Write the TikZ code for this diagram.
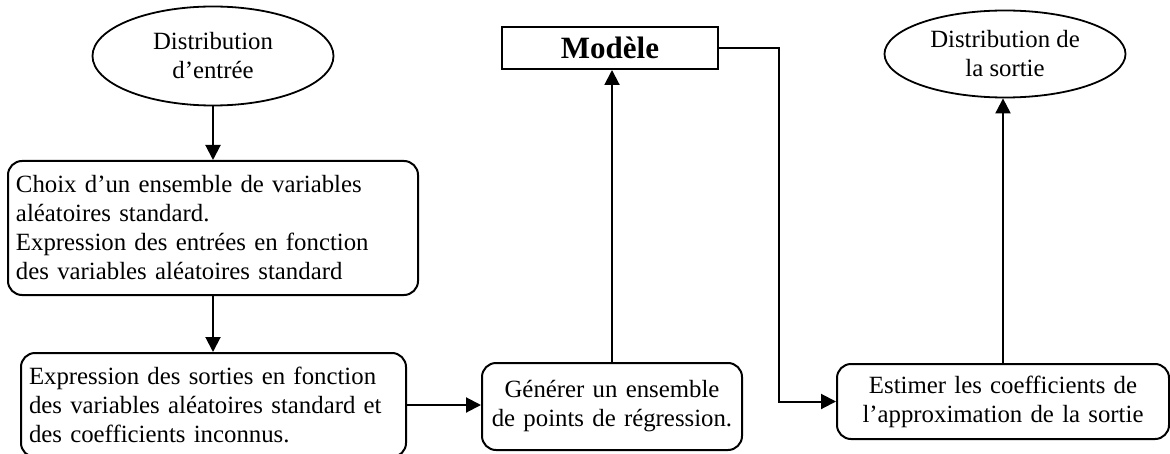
\documentclass[tikz,border=0pt]{standalone}
\usepackage{fontspec}
\setmainfont{Liberation Serif}
\usetikzlibrary{shapes.geometric,arrows.meta}
\newcommand{\txtsz}{\fontsize{12.4}{14.5}\selectfont}
\newcommand{\bigsz}{\fontsize{15.5}{18}\selectfont\bfseries}
\tikzset{
  box/.style={draw, line width=1pt, rounded corners=7pt, inner xsep=4pt, inner ysep=0pt, font=\txtsz},
  oval/.style={draw, ellipse, line width=0.9pt, inner sep=0pt, align=center, font=\txtsz, minimum width=120.5pt},
  arr/.style={line width=1pt, -{Triangle[length=7.5pt,width=7.5pt]}},
}
\begin{document}
\begin{tikzpicture}[x=0.5pt,y=-0.5pt]
\useasboundingbox (0,0) rectangle (1170,454);
\clip (0,0) rectangle (1170,454);
\node[oval, minimum height=49.5pt] (e1) at (213,56) {Distribution\\d’entrée};
\node[oval, minimum height=43.5pt] (e2) at (1005,54) {Distribution de\\la sortie};
\node[draw, line width=1pt, inner sep=0pt, minimum width=108pt, minimum height=21pt, font=\bigsz] (mod) at (610,48) {Modèle};
\node[box, align=left, text width=197pt, minimum height=67pt] (b1) at (213,228) {Choix d’un ensemble de variables\\aléatoires standard.\\Expression des entrées en fonction\\des variables aléatoires standard};
\node[box, align=left, text width=184.5pt, minimum height=52pt] (b2) at (213.5,405) {Expression des sorties en fonction\\des variables aléatoires standard et\\des coefficients inconnus.};
\node[box, align=center, text width=122pt, minimum height=43.5pt] (gen) at (612,406.5) {Générer un ensemble\\de points de régression.};
\node[box, align=center, text width=158pt, minimum height=37.5pt] (est) at (1003,401.5) {Estimer les coefficients de\\l’approximation de la sortie};
\draw[arr] (e1.south) -- (b1.north);
\draw[arr] (b1.south) -- (b1.south |- b2.north);
\draw[arr] (b2.east) -- (b2.east -| gen.west);
\draw[arr] (gen.north) -- (gen.north |- mod.south);
\draw[arr] (mod.east) -- ++(30pt,0) |- (est.west);
\draw[arr] (est.north) -- (est.north |- e2.south);
\end{tikzpicture}
\end{document}
